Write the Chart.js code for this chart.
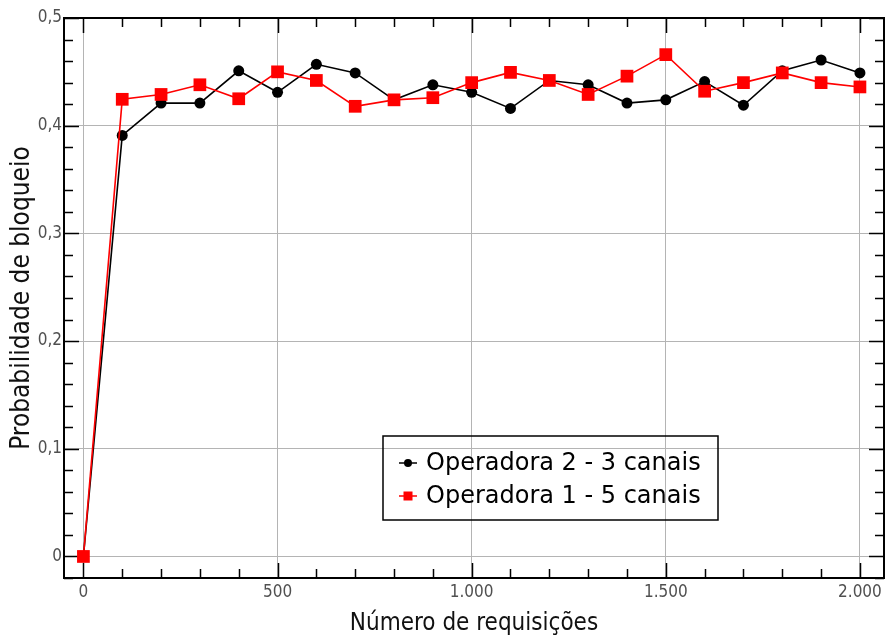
<!DOCTYPE html>
<html><head><meta charset="utf-8">
<script src="https://cdn.jsdelivr.net/npm/chart.js@4.4.0/dist/chart.umd.min.js"></script>
<style>html,body{margin:0;padding:0;background:#fff;overflow:hidden}#wrap{position:relative;width:893px;height:637px}</style>
</head><body><div id="wrap"><canvas id="c" width="893" height="637"></canvas></div>
<script>
const requisicoes = [0,100,200,300,400,500,600,700,800,900,1000,1100,1200,1300,1400,1500,1600,1700,1800,1900,2000];
const operadora2 = [0,0.391,0.421,0.421,0.451,0.431,0.457,0.449,0.424,0.438,0.431,0.416,0.442,0.438,0.421,0.424,0.441,0.419,0.451,0.461,0.449];
const operadora1 = [0,0.4245,0.429,0.438,0.425,0.450,0.442,0.418,0.424,0.426,0.440,0.4495,0.442,0.429,0.446,0.466,0.432,0.440,0.449,0.440,0.436];
const xTickValues = [0,500,1000,1500,2000];
const yTickValues = [0,0.1,0.2,0.3,0.4,0.5];
const seriesNames = ['Operadora 2 - 3 canais','Operadora 1 - 5 canais'];
const xTitle = 'Número de requisições';
const yTitle = 'Probabilidade de bloqueio';

const FONT = "'DejaVu Sans Condensed', 'DejaVu Sans', sans-serif";
const LEGEND_FONT = "'DejaVu Sans', sans-serif";

function fmtX(v){
  const s = String(Math.round(v));
  return s.replace(/\B(?=(\d{3})+(?!\d))/g, '.');
}
function fmtY(v){
  const r = Math.round(v*10)/10;
  return String(r).replace('.', ',');
}

const toPts = (arr) => requisicoes.map((x,i)=>({x:x, y:arr[i]}));

const frameTicks = {
  id:'frameTicks',
  beforeDatasetsDraw(chart){
    const {ctx, chartArea:a, scales:{x, y}} = chart;
    ctx.save();
    ctx.strokeStyle = '#000';
    ctx.lineWidth = 1.5;
    const minL = 9, majL = 15;
    for (let v = 0; v <= x.max + 1e-9; v += 100){
      const px = Math.round(x.getPixelForValue(v)) + 0.5;
      const L = (Math.round(v) % 500 === 0) ? majL : minL;
      ctx.beginPath();
      ctx.moveTo(px, a.bottom); ctx.lineTo(px, a.bottom - L);
      ctx.moveTo(px, a.top); ctx.lineTo(px, a.top + L);
      ctx.stroke();
    }
    for (let i = -1; i <= 25; i++){
      const v = i*0.02;
      if (v < y.min - 1e-9 || v > y.max + 1e-9) continue;
      const py = Math.round(y.getPixelForValue(v)) + 0.5;
      const L = (i % 5 === 0) ? majL : minL;
      ctx.beginPath();
      ctx.moveTo(a.left, py); ctx.lineTo(a.left + L, py);
      ctx.moveTo(a.right, py); ctx.lineTo(a.right - L, py);
      ctx.stroke();
    }
    ctx.lineWidth = 2;
    ctx.strokeRect(a.left, a.top, a.right - a.left, a.bottom - a.top);
    ctx.restore();
  }
};

const customLegend = {
  id:'customLegend',
  afterDraw(chart){
    const {ctx, chartArea:a} = chart;
    const bx = a.left + 319, by = a.top + 418, bw = 335, bh = 84;
    ctx.save();
    ctx.strokeStyle = '#000';
    ctx.lineWidth = 1.5;
    ctx.strokeRect(bx, by, bw, bh);
    const rows = [by + 27, by + 60];
    chart.data.datasets.forEach((ds) => {
      const row = rows[ds.legendIndex];
      ctx.strokeStyle = ds.borderColor;
      ctx.lineWidth = 1.5;
      ctx.beginPath(); ctx.moveTo(bx + 16, row); ctx.lineTo(bx + 34, row); ctx.stroke();
      ctx.fillStyle = ds.pointBackgroundColor;
      if (ds.pointStyle === 'circle'){
        ctx.beginPath(); ctx.arc(bx + 25, row, 4, 0, Math.PI*2); ctx.fill();
      } else {
        ctx.fillRect(bx + 20.5, row - 4.5, 9, 9);
      }
      ctx.fillStyle = '#000';
      ctx.font = '24px ' + LEGEND_FONT;
      ctx.textBaseline = 'middle';
      ctx.textAlign = 'left';
      ctx.fillText(ds.label, bx + 43, row + 1);
    });
    ctx.restore();
  }
};

new Chart(document.getElementById('c'), {
  type:'line',
  data:{
    datasets:[
      {label: seriesNames[0], legendIndex:0, data: toPts(operadora2), borderColor:'#000000', backgroundColor:'#000000',
       pointBackgroundColor:'#000000', pointBorderColor:'#000000', pointStyle:'circle', pointRadius:5.5, pointBorderWidth:0,
       borderWidth:1.6, order:2, tension:0},
      {label: seriesNames[1], legendIndex:1, data: toPts(operadora1), borderColor:'#ff0000', backgroundColor:'#ff0000',
       pointBackgroundColor:'#ff0000', pointBorderColor:'#ff0000', pointStyle:'rect', pointRadius:9, pointBorderWidth:0,
       borderWidth:1.6, order:1, tension:0}
    ]
  },
  options:{
    responsive:false, animation:false, devicePixelRatio:1,
    layout:{padding:{top:18, right:3, left:0, bottom:0}},
    plugins:{legend:{display:false}, tooltip:{enabled:false}},
    scales:{
      x:{type:'linear', min:-50, max:2062,
        afterBuildTicks(s){ s.ticks = xTickValues.map(v=>({value:v})); },
        afterFit(s){ s.height = 59; },
        grid:{color:'#b4b4b4', lineWidth:1, drawTicks:false},
        border:{display:false},
        ticks:{padding:4, color:'#505050', font:{family:FONT, size:17}, callback:(v)=>fmtX(v), maxRotation:0, autoSkip:false},
        title:{display:true, text:xTitle, color:'#111', font:{family:FONT, size:24}, padding:{top:0, bottom:-1}}
      },
      y:{type:'linear', min:-0.02, max:0.5,
        afterBuildTicks(s){ s.ticks = yTickValues.map(v=>({value:v})); },
        afterFit(s){ s.width = 64; },
        grid:{color:'#b4b4b4', lineWidth:1, drawTicks:false},
        border:{display:false},
        ticks:{padding:2, color:'#505050', font:{family:FONT, size:17}, callback:(v)=>fmtY(v), autoSkip:false},
        title:{display:true, text:yTitle, color:'#111', font:{family:FONT, size:26}, padding:{top:7, bottom:0}}
      }
    }
  },
  plugins:[frameTicks, customLegend]
});
</script></body></html>
